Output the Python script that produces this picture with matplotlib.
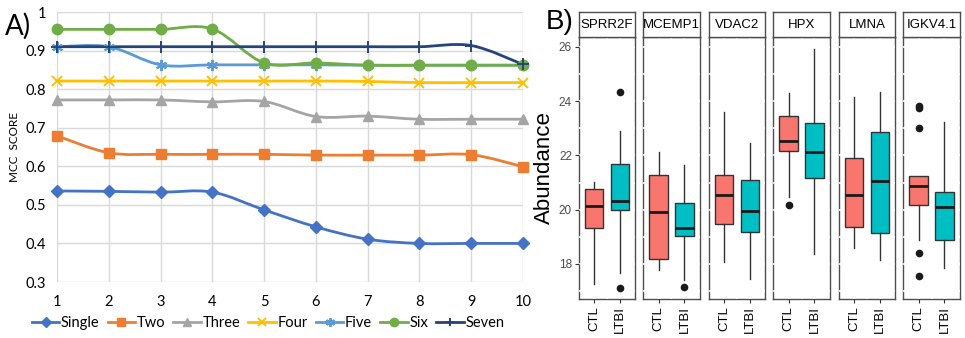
import numpy as np
import matplotlib
matplotlib.use("Agg")
import matplotlib.pyplot as plt
from matplotlib.path import Path
from matplotlib.patches import PathPatch
from matplotlib.lines import Line2D

# ---- panel A data: MCC score vs number of features ----
n_feat = [1, 2, 3, 4, 5, 6, 7, 8, 9, 10]
single = [0.536, 0.535, 0.533, 0.533, 0.487, 0.443, 0.411, 0.400, 0.400, 0.400]
two = [0.679, 0.635, 0.631, 0.631, 0.631, 0.629, 0.629, 0.629, 0.630, 0.599]
three = [0.772, 0.772, 0.772, 0.767, 0.768, 0.729, 0.730, 0.722, 0.722, 0.722]
four = [0.821, 0.821, 0.821, 0.821, 0.821, 0.821, 0.820, 0.817, 0.817, 0.817]
five = [0.910, 0.910, 0.863, 0.863, 0.863, 0.863, 0.862, 0.862, 0.862, 0.862]
six = [0.955, 0.955, 0.955, 0.956, 0.868, 0.868, 0.862, 0.862, 0.862, 0.862]
seven = [0.910, 0.910, 0.910, 0.910, 0.910, 0.910, 0.910, 0.910, 0.913, 0.864]

series_names = ["Single", "Two", "Three", "Four", "Five", "Six", "Seven"]
series_vals = [single, two, three, four, five, six, seven]
series_cols = ["#4472C4", "#ED7D31", "#A5A5A5", "#FFC000", "#5B9BD5", "#70AD47", "#264478"]
series_mk = ["D", "s", "^", "x", (6, 2, 0), "o", "+"]
series_ms = [6, 6.5, 7, 7, 8, 7.5, 8]

# ---- panel B data: boxplot stats (whislo, q1, med, q3, whishi, outliers) ----
genes = ["SPRR2F", "MCEMP1", "VDAC2", "HPX", "LMNA", "IGKV4.1"]
groups = ["CTL", "LTBI"]
ctl_stats = [
    (17.25, 19.32, 20.14, 20.75, 21.03, []),
    (17.78, 18.20, 19.93, 21.28, 22.14, []),
    (18.06, 19.47, 20.54, 21.28, 23.61, []),
    (20.48, 22.17, 22.54, 23.45, 24.28, [20.17]),
    (18.58, 19.37, 20.54, 21.92, 24.16, []),
    (18.89, 20.17, 20.89, 21.25, 21.25, [23.82, 23.73, 23.02, 18.42, 17.57]),
]
ltbi_stats = [
    (17.68, 19.99, 20.32, 21.67, 22.90, [24.32, 17.11]),
    (17.41, 19.04, 19.34, 20.26, 21.65, [17.17]),
    (17.45, 19.19, 19.95, 21.09, 22.44, []),
    (18.37, 21.16, 22.14, 23.18, 25.90, []),
    (18.14, 19.15, 21.07, 22.87, 24.32, []),
    (17.84, 18.89, 20.11, 20.66, 23.24, []),
]
group_cols = ["#F8766D", "#00BFC4"]

W, H = 965, 338
fig = plt.figure(figsize=(W / 100, H / 100), dpi=100)


def px_axes(x0, y0, x1, y1):
    return fig.add_axes([x0 / W, 1 - y1 / H, (x1 - x0) / W, (y1 - y0) / H])


def smooth_path(xs, ys):
    # Excel-style smoothed line: cubic bezier through the points
    pts = np.column_stack([xs, ys])
    verts = [pts[0]]
    codes = [Path.MOVETO]
    n = len(pts)
    for i in range(n - 1):
        p0 = pts[max(i - 1, 0)]
        p1 = pts[i]
        p2 = pts[i + 1]
        p3 = pts[min(i + 2, n - 1)]
        c1 = p1 + (p2 - p0) / 6
        c2 = p2 - (p3 - p1) / 6
        verts += [c1, c2, p2]
        codes += [Path.CURVE4] * 3
    return Path(verts, codes)


# ---------------- panel A ----------------
fontA = "Lato"
axA = px_axes(57, 12, 523, 282)
axA.set_xlim(1, 10)
axA.set_ylim(0.3, 1.0)
axA.set_xticks(n_feat)
axA.set_yticks(np.arange(0.3, 1.01, 0.1))
axA.set_yticklabels(["0.3", "0.4", "0.5", "0.6", "0.7", "0.8", "0.9", "1"])
axA.grid(True, color="#D9D9D9", lw=1)
axA.set_axisbelow(True)
for s in axA.spines.values():
    s.set_visible(False)
axA.tick_params(length=0, labelsize=10.5, pad=8)
axA.tick_params(axis="x", pad=9)
for lab in axA.get_xticklabels() + axA.get_yticklabels():
    lab.set_fontfamily(fontA)
axA.set_ylabel("MCC  SCORE", fontsize=8.5, fontfamily=fontA, labelpad=4)

handles = []
for name, vals, col, mk, ms in zip(series_names, series_vals, series_cols, series_mk, series_ms):
    patch = PathPatch(smooth_path(n_feat, vals), facecolor="none", edgecolor=col,
                      lw=2, clip_on=False, zorder=3)
    axA.add_patch(patch)
    mew = 1.4 if mk in ("x", "+") or isinstance(mk, tuple) else 1
    axA.plot(n_feat, vals, ls="none", marker=mk, ms=ms, color=col, mec=col,
             mew=mew, clip_on=False, zorder=4)
    handles.append(Line2D([], [], color=col, lw=2, marker=mk, ms=ms * 0.8, mew=mew))

fig.legend(handles, series_names, loc="center", bbox_to_anchor=(268 / W, 1 - 323 / H),
           ncol=7, frameon=False, handlelength=1.9, handletextpad=0.1,
           columnspacing=0.55, borderpad=0, prop={"family": fontA, "size": 10.5})
fig.text(5 / W, 1 - 26 / H, "A)", fontsize=20, fontfamily=fontA, va="center")

# ---------------- panel B ----------------
fontB = "Liberation Sans"
facet_x = [(579, 635), (643, 700), (709, 765), (773, 830), (839, 895), (903, 960)]
ylo, yhi = 16.71, 26.36

for k, (gene, (x0, x1)) in enumerate(zip(genes, facet_x)):
    ax = px_axes(x0, 37, x1, 299)
    stats = []
    for st in (ctl_stats[k], ltbi_stats[k]):
        stats.append(dict(whislo=st[0], q1=st[1], med=st[2], q3=st[3], whishi=st[4],
                          fliers=st[5]))
    bp = ax.bxp(stats, positions=[1, 2], widths=0.72, patch_artist=True,
                showcaps=False,
                boxprops=dict(edgecolor="#333333", lw=1, zorder=3),
                medianprops=dict(color="#1a1a1a", lw=2, zorder=4),
                whiskerprops=dict(color="#333333", lw=1, zorder=3),
                flierprops=dict(marker="o", ms=4.5, mfc="#1a1a1a", mec="#1a1a1a",
                                zorder=4, clip_on=False))
    for patch, col in zip(bp["boxes"], group_cols):
        patch.set_facecolor(col)
    ax.set_xlim(0.4, 2.6)
    ax.set_ylim(ylo, yhi)
    # white grid lines only break the panel frame, as in the ggplot original
    for yv in range(17, 27):
        ax.axhline(yv, color="white", lw=1.2, zorder=1.5)
    for xv in (1, 1.5, 2):
        ax.axvline(xv, color="white", lw=1.2, zorder=1.5)
    for s in ax.spines.values():
        s.set_color("#4d4d4d")
        s.set_linewidth(1)
        s.set_zorder(1)
    ax.set_xticks([1, 2])
    ax.set_xticklabels(groups, rotation=90, fontsize=9.5, fontfamily=fontB, color="black")
    ax.tick_params(axis="x", length=3, color="#333333", pad=2)
    ax.set_yticks([18, 20, 22, 24, 26])
    if k == 0:
        ax.set_yticklabels(["18", "20", "22", "24", "26"], fontsize=8.5,
                           fontfamily=fontB, color="#4d4d4d")
        ax.tick_params(axis="y", length=3, color="#333333", pad=2)
        ax.set_ylabel("Abundance", fontsize=16, fontfamily=fontB, labelpad=3)
    else:
        ax.tick_params(axis="y", length=0, labelleft=False)
    # facet strip
    sx = px_axes(x0, 12, x1, 37)
    sx.set_xticks([])
    sx.set_yticks([])
    for s in sx.spines.values():
        s.set_color("#4d4d4d")
        s.set_linewidth(1)
    sx.text(0.5, 0.5, gene, ha="center", va="center", fontsize=9.5,
            fontfamily=fontB, transform=sx.transAxes)

fig.text(546 / W, 1 - 22 / H, "B)", fontsize=20, fontfamily=fontB, va="center")

fig.savefig("out.png", dpi=100)
